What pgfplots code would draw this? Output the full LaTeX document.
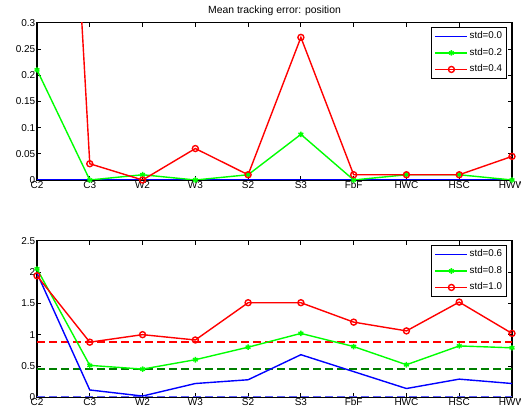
\documentclass[border=0pt]{standalone}
\usepackage{pgfplots}
\pgfplotsset{compat=1.18}
\usepackage{fontspec}
\setmainfont{Liberation Sans}
\definecolor{mgreen}{rgb}{0,1,0}
\definecolor{mred}{rgb}{1,0,0}
\definecolor{mblue}{rgb}{0,0,1}
\definecolor{dgreen}{rgb}{0,0.5,0}
\definecolor{lblue}{rgb}{0.35,0.35,1}
\pgfplotsset{
  every axis/.append style={
    scale only axis,
    width=475pt,
    xmin=0, xmax=9,
    xtick={0,...,9},
    xticklabels={C2,C3,W2,W3,S2,S3,FbF,HWC,HSC,HWW},
    tick align=inside,
    major tick length=4pt,
    axis line style={line width=1.1pt, black},
    every tick/.style={black, line width=0.8pt},
    font=\fontsize{10}{12}\selectfont,
    /pgf/number format/assume math mode=true,
    xticklabel style={inner sep=1pt},
    yticklabel style={inner sep=1.5pt},
    legend cell align=left,
    legend style={at={(1,1)}, anchor=north east, xshift=-5pt, yshift=-4.3pt,
      draw=black, line width=0.9pt, inner sep=3pt, row sep=4.5pt,
      nodes={inner sep=1.5pt, text height=7pt, text depth=2pt},
      font=\fontsize{9.8}{10}\selectfont},
    legend image code/.code={%
      \draw[#1] (0pt,0pt) -- (32pt,0pt);
      \draw[#1, only marks] plot coordinates {(16pt,0pt)};
    },
  },
}
\begin{document}
\begin{tikzpicture}
\begin{axis}[
  at={(37pt,234pt)}, anchor=south west,
  height=157.3pt,
  ymin=0, ymax=0.3,
  ytick={0,0.05,0.1,0.15,0.2,0.25,0.3},
  yticklabels={0,0.05,0.1,0.15,0.2,0.25,0.3},
  title={Mean tracking error: position},
  title style={font=\fontsize{10.4}{12}\selectfont, yshift=-2pt},
]
\addplot[color=mblue, line width=1.4pt] coordinates {
(0,0) (1,0) (2,0) (3,0) (4,0) (5,0) (6,0) (7,0) (8,0) (9,0)};
\addlegendentry{std=0.0}
\addplot[color=mgreen, line width=1.4pt, mark=asterisk, mark size=2.8pt] coordinates {
(0,0.21) (1,0) (2,0.01) (3,0) (4,0.01) (5,0.087) (6,0) (7,0.01) (8,0.01) (9,0)};
\addlegendentry{std=0.2}
\addplot[color=mred, line width=1.4pt, mark=o, mark size=3pt] coordinates {
(0,1.82) (1,0.031) (2,0) (3,0.06) (4,0.01) (5,0.272) (6,0.01) (7,0.01) (8,0.01) (9,0.045)};
\addlegendentry{std=0.4}
\end{axis}
\begin{axis}[
  at={(37pt,16.7pt)}, anchor=south west,
  height=156.6pt,
  ymin=0, ymax=2.5,
  ytick={0,0.5,1,1.5,2,2.5},
  yticklabels={0,0.5,1,1.5,2,2.5},
]
\addplot[draw=mred, line width=1.3pt, dash pattern=on 8pt off 4pt, forget plot] coordinates {(0,0.885) (9,0.885)};
\addplot[draw=dgreen, line width=1.3pt, dash pattern=on 8pt off 4pt, forget plot] coordinates {(0,0.452) (9,0.452)};
\addplot[draw=lblue, line width=1.6pt, dash pattern=on 8pt off 4pt, forget plot] coordinates {(0,0.015) (9,0.015)};
\addplot[color=mblue, line width=1.4pt] coordinates {
(0,1.98) (1,0.117) (2,0.02) (3,0.22) (4,0.28) (5,0.68) (6,0.41) (7,0.14) (8,0.29) (9,0.22)};
\addlegendentry{std=0.6}
\addplot[color=mgreen, line width=1.4pt, mark=asterisk, mark size=2.8pt] coordinates {
(0,2.05) (1,0.51) (2,0.45) (3,0.6) (4,0.8) (5,1.02) (6,0.81) (7,0.52) (8,0.82) (9,0.79)};
\addlegendentry{std=0.8}
\addplot[color=mred, line width=1.4pt, mark=o, mark size=3pt] coordinates {
(0,1.94) (1,0.88) (2,1.0) (3,0.915) (4,1.51) (5,1.51) (6,1.2) (7,1.06) (8,1.52) (9,1.02)};
\addlegendentry{std=1.0}
\end{axis}
\pgfresetboundingbox
\path[use as bounding box] (0pt,0pt) rectangle (521pt,414pt);
\end{tikzpicture}
\end{document}
